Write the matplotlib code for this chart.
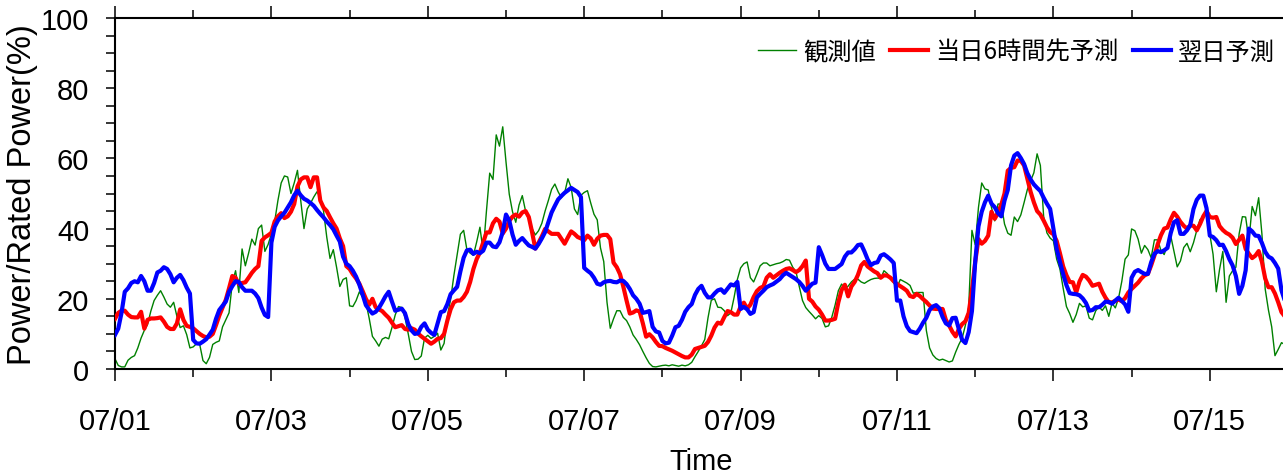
import matplotlib
matplotlib.use("Agg")
import matplotlib.pyplot as plt
from matplotlib.ticker import MultipleLocator
import pandas as pd

# ---------------- data: hourly, 07/01 00:00 .. 07/16 00:00 (361 values each) ----------------
start = "2015-07-01 00:00"

observed = [
    2.9, 1, 0.6, 0.6, 2.5, 3.3, 3.8, 6, 8.8, 11, 12.7, 16.5, 19.5, 21, 22.3, 20.5, 18.5, 17.6, 19, 15, 11.8, 12.3, 9.8, 6,
    6.3, 7.2, 7, 2.4, 1.5, 3.3, 7, 7.6, 8, 12, 14, 16, 24.5, 28, 21.8, 34.2, 29.4, 33, 37, 35.3, 40, 41, 33.5, 35.5,
    38.5, 42, 48, 53, 55, 54.7, 50, 53, 56.6, 48, 40, 45.6, 47.2, 49, 50.5, 49, 45, 37.5, 31.5, 34, 29, 23.5, 25.5, 26,
    18, 17.8, 19.5, 22, 20.5, 19, 14.5, 9.3, 8, 6.5, 8.5, 9, 8.6, 11.8, 15.4, 17.8, 17.5, 14.7, 10, 5, 2.7, 2.8, 3.7, 8.8,
    9.6, 8.7, 9.3, 10.2, 5.4, 7.3, 15, 19.8, 26.6, 32.5, 38.4, 39.5, 34, 33, 32.4, 36.2, 40.4, 33.4, 45, 55.8, 54, 66.7, 63.5, 69,
    59, 49.8, 44.8, 41.8, 46.7, 49.4, 45, 42.7, 40, 38.2, 39.4, 41.5, 45, 48, 51.2, 52.7, 50.5, 48.8, 50.2, 54.2, 51.7, 45.6, 44, 49.5,
    50.3, 50.8, 47.3, 44.1, 42.5, 34.5, 30.6, 19, 11.6, 14.3, 16.6, 16.6, 14.7, 13.8, 12, 9.7, 8.4, 6.9, 5, 3.2, 1.6, 0.7, 0.6, 0.8,
    1, 1.1, 0.9, 1.2, 1, 0.8, 1.1, 0.9, 1.2, 1.9, 3.5, 5, 6.6, 8.4, 14.6, 19.6, 20, 17.6, 17.5, 16.6, 15.2, 16, 20.4, 25.5,
    28.8, 30, 30.5, 26, 24.8, 27, 29.4, 30.2, 30.2, 29.4, 29.7, 30, 30.2, 30.6, 31.2, 31, 29, 27.7, 23.5, 19.5, 17.5, 16.4, 15.4, 14.3,
    15.2, 14.4, 12, 12.3, 14.8, 18.2, 22.3, 24.2, 22.8, 23.6, 24.8, 25.6, 25.6, 24.8, 24.4, 25, 25.5, 25.8, 25.9, 25.8, 28, 27.2, 25.8, 24.5,
    23.2, 25.5, 25, 24.5, 23.8, 21.6, 21.8, 21.8, 21.8, 11, 6, 4, 3, 2.5, 2.8, 2.4, 2, 2.3, 4.8, 7, 8.8, 12.5, 17.5, 39.5,
    35.4, 46, 53, 51.3, 51, 46, 42.2, 47, 47, 41.3, 38.7, 38.1, 43.3, 42, 43.9, 47.4, 51.1, 53.6, 55.9, 61.3, 58, 43.5, 38.8, 37.3,
    36.5, 31.3, 28.5, 23, 17.8, 15.8, 13.3, 15.5, 18.7, 17.7, 18, 14.5, 14, 16.6, 17.7, 16.7, 18, 15, 18.8, 17.4, 20.2, 25, 31.3, 32.5,
    39.9, 39.4, 37, 33, 35.2, 34, 31.7, 36.8, 36.8, 33.8, 32.6, 35.5, 38, 33.5, 29.1, 30.8, 34.6, 35.8, 33.4, 36, 39.5, 42.6, 43.2, 45.5,
    38.4, 32.7, 22, 28.4, 33.5, 19, 26.5, 28, 29, 38.5, 43.4, 43.3, 36.6, 46.3, 43.7, 48.8, 38.4, 22.8, 16.8, 12, 3.8, 5.6, 7.5, 7,
    6.5,
]

forecast_6h = [
    14.3, 16, 16.6, 16.6, 15.5, 14.8, 14.7, 14.7, 16.3, 11.5, 14, 14.4, 14.4, 14.5, 14.7, 13.5, 12, 11.4, 11.4, 13, 17, 14, 12.3, 12,
    11.6, 10.8, 10, 9.4, 9, 9.2, 10, 12.5, 15.2, 17.5, 19.7, 23, 26.5, 26, 24.2, 24.5, 24.7, 26, 27.4, 28.5, 29.3, 36.5, 37.5, 38.1,
    38.8, 42, 43.5, 44.4, 43, 43.5, 44.8, 47, 52, 54, 54.6, 54.6, 51.8, 54.6, 54.6, 48, 46, 45, 43.2, 41.5, 40, 37.2, 35, 29.3,
    28.5, 27, 25.8, 24.3, 22.2, 20, 18.3, 20, 17.6, 17, 16.5, 15.5, 14.6, 13.2, 11.9, 12.2, 12.5, 11.4, 11.2, 11.6, 11.2, 10.1, 9.3, 8.6,
    7.9, 7.2, 7.8, 8.6, 8.8, 10, 13.8, 17, 19, 19.5, 19.5, 20.5, 22, 24.8, 28.5, 31.3, 33.2, 36, 38.9, 38.9, 41.5, 42.8, 42, 38.6,
    40, 42.2, 43.4, 44, 43.4, 44.6, 45, 43.3, 39, 34.3, 36, 37.8, 39.9, 39.2, 38.5, 38.5, 38.5, 37.1, 35.7, 37.5, 39.2, 38.5, 37.6, 37.2,
    36.7, 38, 37.2, 35.4, 37.1, 38, 38.2, 38.2, 37, 30.3, 29, 27, 23.5, 19.5, 15.8, 16.1, 16.7, 16.4, 13, 9.2, 9.9, 9, 7.7, 6.6,
    6.5, 6, 5.6, 5.2, 4.7, 4.2, 3.7, 3.3, 3.3, 4.1, 5.7, 6, 6.3, 6.6, 7.7, 9.5, 11.8, 13.2, 12.9, 14.8, 16.5, 16.2, 15.5, 15.5,
    17.8, 18.9, 17.2, 18.3, 20.5, 22.2, 23.1, 23.5, 26, 27, 26, 26.7, 27.4, 28, 28.5, 28.7, 28.2, 27.6, 28.2, 29.3, 30.9, 20, 19.2, 17.8,
    16.9, 15.5, 13.8, 13.8, 14, 14.3, 19, 22.5, 24, 20.7, 23.5, 24.8, 26.8, 29.5, 30.5, 29.2, 28.5, 27.8, 27.3, 26, 26.7, 26.6, 26, 25,
    24.2, 23.6, 23, 22.3, 20.8, 20.5, 21.4, 20.8, 19.9, 19.1, 18.1, 17.2, 17.1, 17.1, 17.1, 14, 12.4, 10.6, 9.3, 11.4, 12.8, 13.6, 16, 22.5,
    30.5, 37, 35.7, 36.5, 38, 44.8, 42.8, 44.5, 46.8, 50, 56.5, 57.3, 57.5, 59.4, 59.3, 58, 54.3, 50.5, 47.5, 45, 44, 42.3, 40.4, 39,
    38.4, 36.5, 33, 29.2, 26.7, 24.8, 24.7, 21.8, 24.9, 26.8, 26.3, 25.2, 23.7, 24, 24.3, 22, 20.3, 19, 19, 19.4, 19.8, 19.3, 20.2, 21.8,
    22.8, 23.7, 24.6, 25.8, 26.7, 27.1, 29.5, 32.3, 35.5, 38.1, 40, 40.3, 42.6, 44.5, 43.4, 41.9, 40.8, 40, 40.9, 40.8, 39.5, 41.3, 43.5, 45,
    43.3, 43.1, 43.3, 40.7, 39.6, 38.8, 38.3, 37.4, 35.6, 36.8, 38, 34.2, 32.8, 31.6, 32.3, 33.6, 30.5, 25.8, 23.3, 23.3, 21.5, 19, 16.2, 15,
    14.5,
]

forecast_day_ahead = [
    9.7, 11.5, 16, 22, 23, 24.5, 25, 24.7, 26.5, 25, 22.3, 22.3, 24.5, 27.5, 28, 29, 28.5, 27, 24.7, 26, 26.8, 25.3, 23.2, 21.5,
    8.3, 7.3, 7.2, 7.8, 8.5, 9.8, 11.2, 14.3, 16.8, 18, 19.2, 22, 23.6, 25, 24.8, 23.3, 22.3, 22.3, 22.3, 21.5, 20.2, 17.5, 15.4, 14.8,
    36, 40.5, 42.3, 43.5, 44.5, 46, 47.5, 49.5, 50.8, 49.5, 48.5, 48, 47.3, 46.5, 45.3, 44.2, 43.2, 42, 41, 39.8, 38, 36.3, 32, 30,
    29.3, 28, 26.3, 24, 21.2, 18.2, 16.9, 15.8, 16.3, 17.4, 19, 20.7, 22, 19.2, 16.6, 16.9, 17.2, 15.9, 12.8, 11, 10, 10.2, 12, 13,
    11.2, 10.3, 9.7, 13, 16.2, 16.5, 18.5, 21.3, 22.4, 23.4, 27.8, 31.7, 33.8, 34, 32.8, 33.4, 33, 33.7, 36, 36, 34.9, 34.7, 36.1, 39,
    44, 42.3, 38.3, 35.4, 36.5, 37.3, 36.2, 35.2, 34.8, 34.3, 35.6, 37.2, 39, 41.8, 44.6, 46.5, 48.3, 49.3, 50.2, 50.9, 51.6, 51, 50.4, 49,
    28.8, 28, 27.3, 26, 24.3, 24, 24.7, 25, 25.1, 24.8, 24.7, 25.2, 25.1, 24.2, 22.8, 21, 20, 18.6, 16, 16.2, 16.5, 12, 10.7, 10.4,
    8, 7.3, 7.5, 9.5, 11.9, 12.3, 14, 16.3, 17.6, 18.5, 21.1, 22.8, 23.7, 21.7, 20.4, 20.4, 21.5, 22.4, 22.7, 21.7, 22.9, 24.1, 23.8, 24.8,
    17.1, 17.7, 17, 15.7, 16.2, 20.4, 21.4, 22.3, 23.3, 23.8, 24.2, 24.9, 25.6, 26.7, 27.4, 26.8, 26.2, 25.6, 24.8, 23.7, 22.3, 23.3, 24.3, 24.6,
    34.7, 32.5, 30, 28.5, 28.5, 28.5, 29.2, 29.9, 32, 33.2, 33.2, 34.1, 35.3, 35.5, 33.5, 31.2, 29.6, 30.2, 30.4, 32.3, 32.7, 32, 31.2, 30.2,
    19.5, 19.5, 15, 12.2, 10.8, 10.5, 10.2, 11.5, 13.2, 14.6, 16.8, 17.8, 18.2, 17.3, 14.8, 13, 12.4, 14.5, 14.6, 11.3, 8.3, 7.4, 10.5, 16.5,
    30.5, 40.6, 44.8, 47.5, 49.4, 47.1, 46.1, 44.4, 43.5, 48, 51, 58, 60.8, 61.5, 60.1, 58.4, 55.8, 54, 52.6, 51.6, 50.7, 48.8, 47.1, 45.6,
    40, 34.2, 30.5, 27, 23.9, 21.6, 21.4, 21.3, 21, 20.1, 18.8, 16.6, 16.8, 17.6, 17.6, 18.3, 19.2, 19.1, 18.6, 19.5, 20.3, 19.4, 18.4, 16.3,
    26, 27.7, 28.2, 27.6, 27.1, 27.1, 30.4, 32.8, 33.6, 33.3, 33.8, 34.5, 38.7, 41.8, 42.4, 38.5, 38.5, 39.5, 41, 45.6, 48.2, 49.4, 49.4, 45.8,
    38, 37.6, 36.7, 35.3, 35.4, 33.6, 31.3, 29.5, 26.5, 21.4, 23.7, 28.1, 40, 39.2, 38, 37.9, 35.9, 33.4, 32, 31.5, 30.2, 28.6, 22.4, 19.5,
    18,
]

series_labels = ["観測値", "当日6時間先予測", "翌日予測"]
tick_labels = ["07/01", "07/03", "07/05", "07/07", "07/09", "07/11", "07/13", "07/15"]
y_ticks = [0, 20, 40, 60, 80, 100]

# ---------------- figure ----------------
W, H = 1283, 477
fig = plt.figure(figsize=(W / 100, H / 100), dpi=100)

left_px, right_px, top_px, bottom_px = 115, 1288, 19, 370
ax = fig.add_axes([left_px / W, 1 - bottom_px / H,
                   (right_px - left_px) / W, (bottom_px - top_px) / H])

times = pd.date_range(start, periods=len(observed), freq="1h")

ax.plot(times, observed, color="#008000", lw=1.0, label=series_labels[0], zorder=2)
ax.plot(times, forecast_6h, color="#ff0000", lw=3.0, label=series_labels[1], zorder=3)
ax.plot(times, forecast_day_ahead, color="#0000ff", lw=3.0, label=series_labels[2], zorder=4)

t0 = pd.Timestamp(start)
ax.set_xlim(t0, t0 + pd.Timedelta(days=15))
ax.set_ylim(0, 100)

major_x = pd.date_range(t0, periods=len(tick_labels), freq="2D")
minor_x = pd.date_range(t0, periods=16, freq="1D")
ax.set_xticks(major_x)
ax.set_xticks(minor_x, minor=True)

sans = ["Liberation Sans", "DejaVu Sans"]
ax.set_xticklabels(tick_labels, family=sans, fontsize=21)
ax.set_yticks(y_ticks)
ax.set_yticklabels([str(v) for v in y_ticks], family=sans, fontsize=21)
ax.yaxis.set_minor_locator(MultipleLocator(5))

for s in ["left", "bottom", "top"]:
    ax.spines[s].set_linewidth(1.5)
ax.spines["right"].set_visible(False)

ax.tick_params(axis="x", which="major", direction="out", length=8.5, width=1.1,
               top=True, bottom=True, labeltop=False, pad=19)
ax.tick_params(axis="x", which="minor", direction="out", length=5.5, width=1.1,
               top=True, bottom=True)
ax.tick_params(axis="y", which="major", direction="out", length=6.5, width=1.1,
               right=False, pad=12)
ax.tick_params(axis="y", which="minor", direction="out", length=6.5, width=1.1,
               right=False)

fig.text(23 / W, 1 - 194.5 / H, "Power/Rated Power(%)", rotation=90,
         ha="center", va="center", fontsize=23.5, family=sans)
fig.text(701 / W, 1 - 470 / H, "Time", ha="center", va="baseline",
         fontsize=21, family=sans)

leg = ax.legend(loc="center right", bbox_to_anchor=(1275 / W, 1 - 53 / H),
                bbox_transform=fig.transFigure, ncol=3, frameon=False,
                handlelength=1.55, handletextpad=0.3, columnspacing=0.6,
                borderpad=0, borderaxespad=0,
                prop={"family": ["Noto Sans CJK JP", "DejaVu Sans"], "size": 17.5})

fig.savefig("out.png", dpi=100)
